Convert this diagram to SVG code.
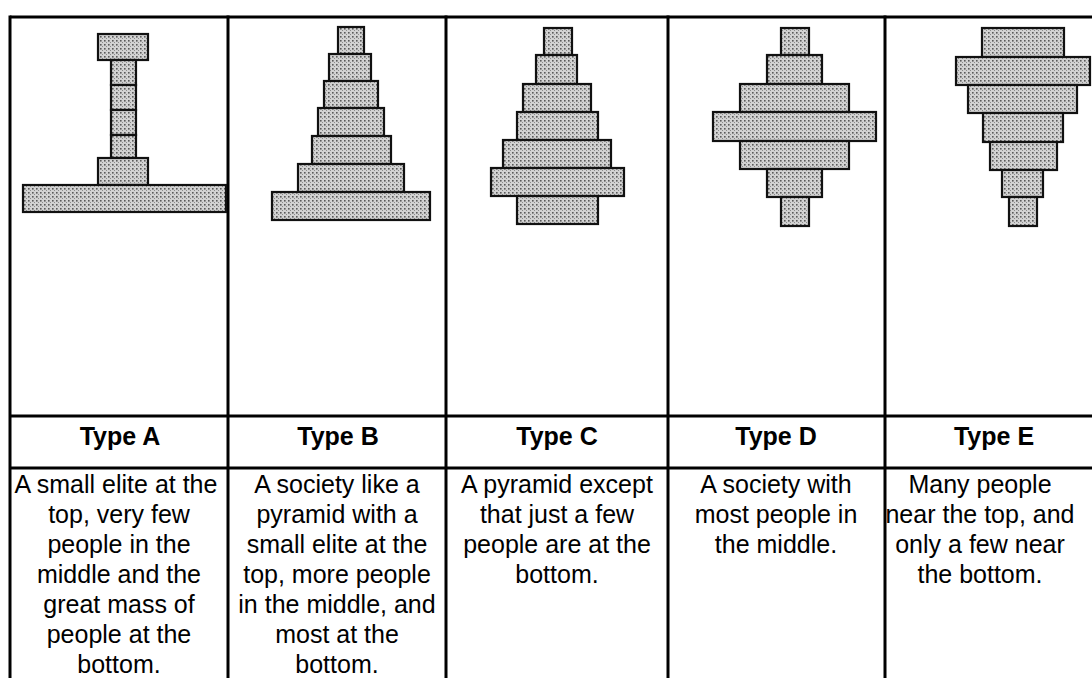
<svg xmlns="http://www.w3.org/2000/svg" width="1092" height="678" viewBox="0 0 1092 678">
<defs>
<pattern id="dots" width="4" height="4" patternUnits="userSpaceOnUse">
<rect width="4" height="4" fill="#d2d2d2"/>
<rect x="0" y="0" width="1.6" height="1.6" fill="#5a5a5a"/>
<rect x="2" y="2" width="1" height="1" fill="#8a8a8a"/>
</pattern>
</defs>
<style>
.grid{stroke:#000;stroke-width:3;fill:none}
.blk{fill:url(#dots);stroke:#111;stroke-width:2.2}
.hd{font-family:"Liberation Sans",Arial,sans-serif;font-weight:bold;font-size:25px;fill:#000;text-anchor:middle}
.ds{font-family:"Liberation Sans",Arial,sans-serif;font-size:25px;fill:#000;text-anchor:middle}
</style>
<rect width="1092" height="678" fill="#fff"/>
<g id="table" class="grid">
<line x1="10" y1="17" x2="1092" y2="17"/>
<line x1="10" y1="416" x2="1092" y2="416"/>
<line x1="10" y1="468" x2="1092" y2="468"/>
<line x1="10" y1="15.5" x2="10" y2="678"/>
<line x1="228" y1="15.5" x2="228" y2="678"/>
<line x1="446" y1="15.5" x2="446" y2="678"/>
<line x1="668" y1="15.5" x2="668" y2="678"/>
<line x1="885" y1="15.5" x2="885" y2="678"/>
</g>
<g id="pyramid-a">
<rect class="blk" x="98" y="34" width="50" height="26"/>
<rect class="blk" x="111" y="60" width="25" height="25"/>
<rect class="blk" x="111" y="85" width="25" height="25"/>
<rect class="blk" x="111" y="110" width="25" height="25"/>
<rect class="blk" x="111" y="135" width="25" height="23"/>
<rect class="blk" x="98" y="158" width="50" height="27"/>
<rect class="blk" x="23" y="185" width="203" height="27"/>
</g>
<g id="pyramid-b">
<rect class="blk" x="338" y="27" width="26" height="27"/>
<rect class="blk" x="329" y="54" width="42" height="27"/>
<rect class="blk" x="324" y="81" width="54" height="27"/>
<rect class="blk" x="318" y="108" width="66" height="28"/>
<rect class="blk" x="312" y="136" width="79" height="28"/>
<rect class="blk" x="298" y="164" width="106" height="28"/>
<rect class="blk" x="272" y="192" width="158" height="28"/>
</g>
<g id="pyramid-c">
<rect class="blk" x="544" y="28" width="28" height="27"/>
<rect class="blk" x="536" y="55" width="41" height="29"/>
<rect class="blk" x="523" y="84" width="68" height="28"/>
<rect class="blk" x="517" y="112" width="81" height="28"/>
<rect class="blk" x="503" y="140" width="108" height="28"/>
<rect class="blk" x="491" y="168" width="133" height="28"/>
<rect class="blk" x="517" y="196" width="81" height="28"/>
</g>
<g id="pyramid-d">
<rect class="blk" x="781" y="28" width="28" height="27"/>
<rect class="blk" x="767" y="55" width="55" height="29"/>
<rect class="blk" x="740" y="84" width="109" height="28"/>
<rect class="blk" x="713" y="112" width="163" height="29"/>
<rect class="blk" x="740" y="141" width="109" height="28"/>
<rect class="blk" x="767" y="169" width="55" height="28"/>
<rect class="blk" x="781" y="197" width="28" height="29"/>
</g>
<g id="pyramid-e">
<rect class="blk" x="982" y="28" width="82" height="29"/>
<rect class="blk" x="956" y="57" width="134" height="28"/>
<rect class="blk" x="968" y="85" width="109" height="28"/>
<rect class="blk" x="983" y="113" width="80" height="29"/>
<rect class="blk" x="990" y="142" width="67" height="28"/>
<rect class="blk" x="1002" y="170" width="41" height="27"/>
<rect class="blk" x="1009" y="197" width="28" height="29"/>
</g>
<g id="labels">
<text class="hd" x="120" y="445">Type A</text>
<text class="hd" x="338" y="445">Type B</text>
<text class="hd" x="557" y="445">Type C</text>
<text class="hd" x="776" y="445">Type D</text>
<text class="hd" x="994" y="445">Type E</text>
</g>
<g id="desc-a" class="ds">
<text x="116" y="493">A small elite at the</text>
<text x="119" y="523">top, very few</text>
<text x="119" y="553">people in the</text>
<text x="119" y="583">middle and the</text>
<text x="119" y="613">great mass of</text>
<text x="119" y="643">people at the</text>
<text x="119" y="673">bottom.</text>
</g>
<g id="desc-b" class="ds">
<text x="337" y="493">A society like a</text>
<text x="337" y="523">pyramid with a</text>
<text x="337" y="553">small elite at the</text>
<text x="337" y="583">top, more people</text>
<text x="337" y="613">in the middle, and</text>
<text x="337" y="643">most at the</text>
<text x="337" y="673">bottom.</text>
</g>
<g id="desc-c" class="ds">
<text x="557" y="493">A pyramid except</text>
<text x="557" y="523">that just a few</text>
<text x="557" y="553">people are at the</text>
<text x="557" y="583">bottom.</text>
</g>
<g id="desc-d" class="ds">
<text x="776" y="493">A society with</text>
<text x="776" y="523">most people in</text>
<text x="776" y="553">the middle.</text>
</g>
<g id="desc-e" class="ds">
<text x="980" y="493">Many people</text>
<text x="980" y="523">near the top, and</text>
<text x="980" y="553">only a few near</text>
<text x="980" y="583">the bottom.</text>
</g>
</svg>
